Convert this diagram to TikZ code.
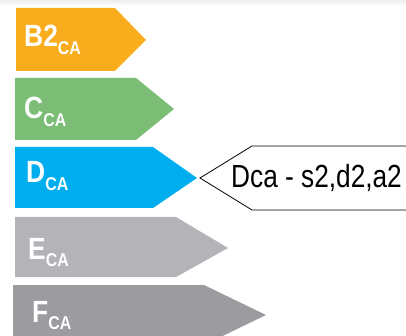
\documentclass[tikz,border=0pt]{standalone}
\usepackage{fontspec}
\setmainfont{Liberation Sans}
\definecolor{cB}{HTML}{F9AC1C}
\definecolor{cC}{HTML}{7BBD75}
\definecolor{cD}{HTML}{00AEEF}
\definecolor{cE}{HTML}{B3B3B8}
\definecolor{cF}{HTML}{9B9BA0}
\newcommand\mylab[2]{\scalebox{0.86}[1]{\fontsize{30.7}{30.7}\selectfont\bfseries #1\raisebox{-7.5pt}{\fontsize{18.5}{18.5}\selectfont #2}}}
\tikzset{
  lab/.style={anchor=base west, inner sep=0pt, text=white},
  callout/.style={anchor=base west, inner sep=0pt, text=black}
}
\begin{document}
\begin{tikzpicture}[x=1pt,y=-1pt]
\useasboundingbox (0,0) rectangle (406,336);
\clip (0,0) rectangle (406,336);
\shade[top color=black!7, bottom color=white] (0,0) rectangle (406,6);
% arrows
\fill[cB] (16,8) -- (115,8) -- (146,40) -- (115,71) -- (16,71) -- cycle;
\fill[cC] (15,78) -- (136,78) -- (174,109) -- (136,140) -- (15,140) -- cycle;
\fill[cD] (15,147) -- (153,147) -- (197,178) -- (153,208) -- (15,208) -- cycle;
\fill[cE] (15,217) -- (176,217) -- (228,248) -- (176,277) -- (15,277) -- cycle;
\fill[cF] (13,285) -- (204,285) -- (266,315) -- (204,345) -- (13,345) -- cycle;
% labels
\node[lab] (b2) at (24,47) {\mylab{B2}{CA}};
\node[lab] (c) at (24,119) {\mylab{C}{CA}};
\node[lab] (d) at (26,183) {\mylab{D}{CA}};
\node[lab] (e) at (28,259) {\mylab{E}{CA}};
\node[lab] (f) at (32,322) {\mylab{F}{CA}};
% callout
\draw[black, line width=0.8pt, fill=white] (200,178) -- (252,146) -- (420,146) -- (420,210) -- (252,210) -- cycle;
\node[callout] (dca) at (231,188) {\scalebox{0.82}[1]{\fontsize{32}{32}\selectfont Dca - s2,d2,a2}};
\end{tikzpicture}
\end{document}
